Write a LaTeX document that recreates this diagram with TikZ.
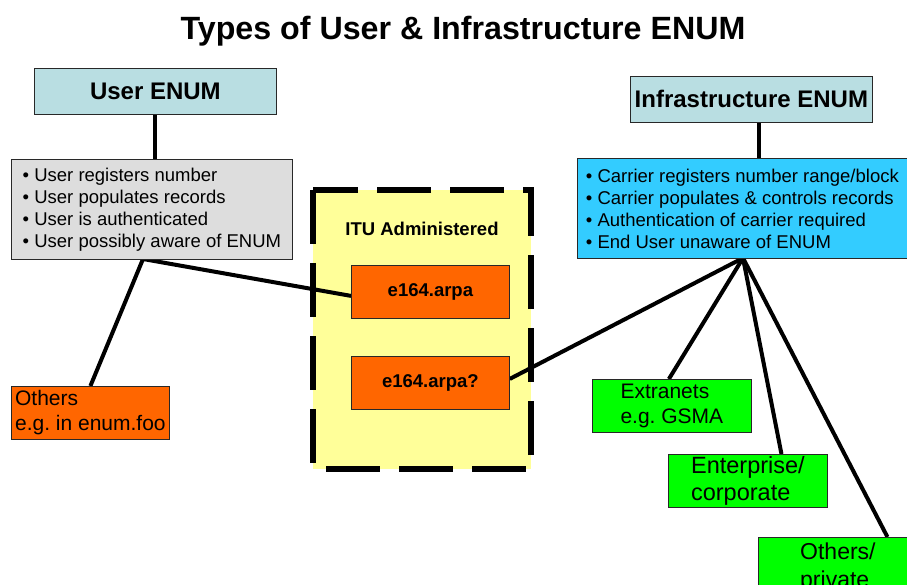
\documentclass[tikz,border=0pt]{standalone}
\usepackage{fontspec}
\setmainfont{Liberation Sans}
\usetikzlibrary{calc}
\frenchspacing
\definecolor{hdrteal}{RGB}{185,222,226}
\definecolor{graybox}{RGB}{221,221,221}
\definecolor{bluebox}{RGB}{51,204,255}
\definecolor{orangebox}{RGB}{255,102,0}
\definecolor{greenbox}{RGB}{0,255,0}
\definecolor{yellowbox}{RGB}{255,255,153}
\definecolor{edgegray}{RGB}{40,40,40}
\pgfdeclarelayer{bgbg}
\pgfdeclarelayer{bg}
\pgfsetlayers{bgbg,bg,main}
\tikzset{
  boxbase/.style={draw=edgegray, line width=0.8pt, inner sep=0pt, anchor=north west},
  hdrbox/.style={boxbase, fill=hdrteal, minimum width=242pt, minimum height=46pt,
     font=\bfseries\fontsize{24}{28}\selectfont},
  listbox/.style={boxbase, align=left, font=\fontsize{18.5}{22}\selectfont},
  arpabox/.style={boxbase, fill=orangebox, minimum width=158pt, minimum height=53pt,
     font=\bfseries\fontsize{18.5}{22}\selectfont},
  leafbox/.style={boxbase, align=left, minimum width=159pt, minimum height=53pt},
  conn/.style={line width=4pt, black},
  itudash/.style={line width=6.5pt, dash pattern=on 54pt off 19pt, fill=yellowbox}
}
\begin{document}
\begin{tikzpicture}[x=1pt,y=-1pt]
\useasboundingbox (0,0) rectangle (907,585);
\clip (0,0) rectangle (907,585);

\node[font=\bfseries\fontsize{32.2}{38}\selectfont, anchor=base] (title) at (463,40)
  {Types of User \& Infrastructure ENUM};

\node[hdrbox] (uh) at (34,68) {User ENUM};
\node[hdrbox] (ih) at (630,76) {Infrastructure ENUM};

\node[listbox, fill=graybox, minimum width=281pt, minimum height=100pt] (ub) at (11,159)
  {• User registers number\\• User populates records\\• User is authenticated\\• User possibly aware of ENUM};
\node[listbox, fill=bluebox, minimum width=330pt, minimum height=100pt] (ib) at (577,158)
  {• Carrier registers number range/block\\• Carrier populates \& controls records\\• Authentication of carrier required\\• End User unaware of ENUM};

\begin{pgfonlayer}{bgbg}
  \draw[itudash] (313,190) rectangle (531,469);
\end{pgfonlayer}
\node[font=\bfseries\fontsize{18.5}{22}\selectfont] (itu) at (422,229) {ITU Administered};

\node[arpabox] (e1) at (351,265) {e164.arpa};
\node[arpabox] (e2) at (351,356) {e164.arpa?};

\node[leafbox, fill=orangebox, minimum width=158pt, font=\fontsize{21}{25}\selectfont] (oth) at (11,386)
  {Others\\e.g. in enum.foo};
\node[leafbox, fill=greenbox, font=\fontsize{21}{25}\selectfont] (ext) at (592,379)
  {Extranets\\e.g. GSMA};
\node[leafbox, fill=greenbox, font=\fontsize{23.5}{27}\selectfont] (ent) at (668,454)
  {Enterprise/\\corporate};
\node[leafbox, fill=greenbox, minimum height=60pt, font=\fontsize{23}{28}\selectfont] (prv) at (758,537)
  {Others/\\private};

\coordinate (uj) at (143,259);
\coordinate (ij) at (743,258);

\begin{pgfonlayer}{bg}
  \draw[conn] (uh.south) -- (uh.south |- ub.north);
  \draw[conn] ([xshift=8pt]ih.south) -- ([xshift=8pt]ih.south |- ib.north);
  \draw[conn] (uj) -- (oth.north);
  \draw[conn] (uj) -- ([yshift=-4pt]e1.west);
  \draw[conn] (ij) -- ([yshift=4pt]e2.east);
  \draw[conn] (ij) -- ([xshift=-3pt]ext.north);
  \draw[conn] (ij) -- ($(ent.north west)!0.71!(ent.north east)$);
  \draw[conn] (ij) -- ($(prv.north west)!0.81!(prv.north east)$);
\end{pgfonlayer}
\end{tikzpicture}
\end{document}
